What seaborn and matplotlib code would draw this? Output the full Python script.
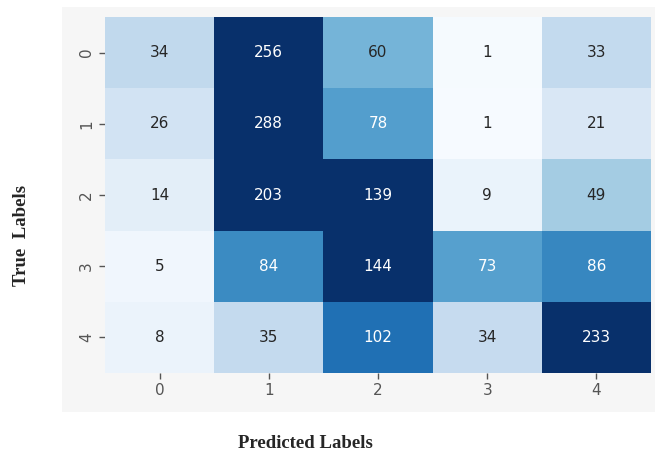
import numpy as np
import pandas as pd
import matplotlib
matplotlib.use("Agg")
import matplotlib.pyplot as plt
from matplotlib.patches import Rectangle
import seaborn as sns

# confusion matrix counts (rows = true, cols = predicted)
labels = ["0", "1", "2", "3", "4"]
row_0 = [34, 256, 60, 1, 33]
row_1 = [26, 288, 78, 1, 21]
row_2 = [14, 203, 139, 9, 49]
row_3 = [5, 84, 144, 73, 86]
row_4 = [8, 35, 102, 34, 233]

cm = pd.DataFrame([row_0, row_1, row_2, row_3, row_4], index=labels, columns=labels)
# colours follow row-normalised proportions, annotations show counts
cm_norm = cm.div(cm.sum(axis=1), axis=0)

sns.set_style("white", {"xtick.bottom": True, "ytick.left": True})

fig = plt.figure(figsize=(6.55, 4.57), dpi=100)
fig.patch.set_facecolor("white")

# light grey panel behind the heatmap (screenshot background)
fig.patches.append(Rectangle((62 / 655, 1 - 412 / 457), (655 - 62) / 655, (412 - 7) / 457,
                             transform=fig.transFigure, facecolor="#f6f6f6",
                             edgecolor="none", zorder=-1))

ax = fig.add_axes([105 / 655, 1 - 373 / 457, 546 / 655, 356 / 457])
ax.set_zorder(2)
sns.heatmap(cm_norm, annot=cm.values, fmt="d", cmap="Blues", vmin=0, vmax=0.33,
            cbar=False, ax=ax, annot_kws={"fontsize": 11})

ax.tick_params(axis="both", length=4, width=1, color="#555555",
               labelcolor="#555555", labelsize=11, bottom=True, left=True)
ax.tick_params(axis="y", rotation=90, pad=4)
ax.tick_params(axis="x", rotation=0, pad=3)
ax.set_xlabel("")
ax.set_ylabel("")

fig.text(22 / 655, 1 - 235 / 457, "True  Labels", rotation=90, ha="center", va="center",
         family="Liberation Serif", fontweight="bold", fontsize=13.5)
fig.text(305 / 655, 1 - 444 / 457, "Predicted Labels", ha="center", va="center",
         family="Liberation Serif", fontweight="bold", fontsize=13.5)

fig.savefig("out.png", dpi=100)
